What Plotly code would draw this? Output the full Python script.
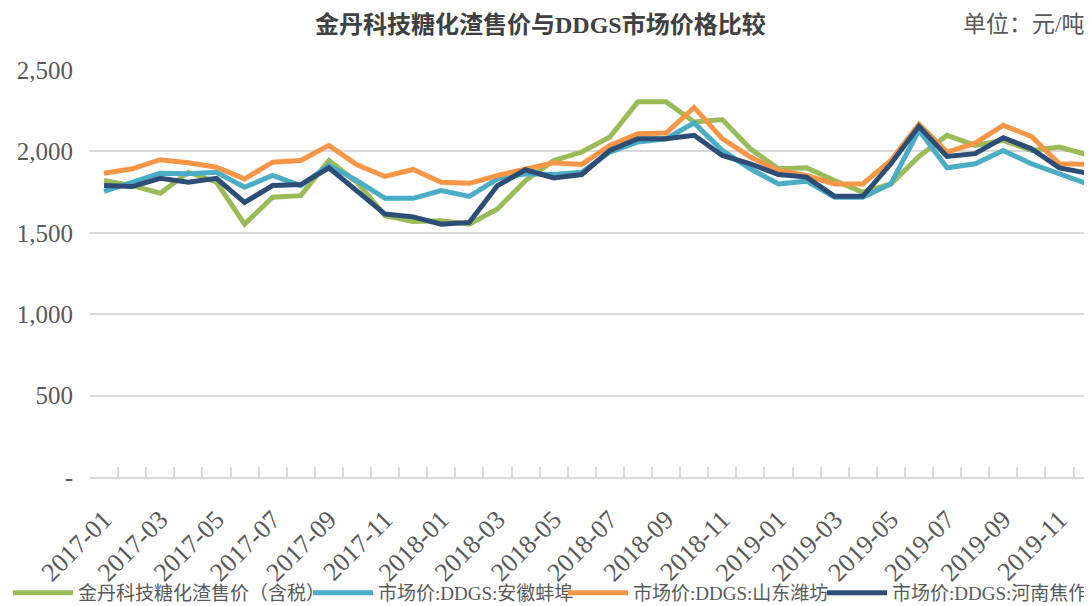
import plotly.graph_objects as go

months = [
    "2017-01", "2017-02", "2017-03", "2017-04", "2017-05", "2017-06",
    "2017-07", "2017-08", "2017-09", "2017-10", "2017-11", "2017-12",
    "2018-01", "2018-02", "2018-03", "2018-04", "2018-05", "2018-06",
    "2018-07", "2018-08", "2018-09", "2018-10", "2018-11", "2018-12",
    "2019-01", "2019-02", "2019-03", "2019-04", "2019-05", "2019-06",
    "2019-07", "2019-08", "2019-09", "2019-10", "2019-11", "2019-12",
]
x_ticklabels = [
    "2017-01", "", "2017-03", "", "2017-05", "", "2017-07", "", "2017-09", "", "2017-11", "",
    "2018-01", "", "2018-03", "", "2018-05", "", "2018-07", "", "2018-09", "", "2018-11", "",
    "2019-01", "", "2019-03", "", "2019-05", "", "2019-07", "", "2019-09", "", "2019-11", "",
]

jindan = [1821, 1790, 1743, 1872, 1811, 1553, 1718, 1728, 1944, 1811, 1605, 1570,
          1574, 1553, 1646, 1821, 1944, 1996, 2088, 2305, 2305, 2181, 2196, 2016,
          1893, 1899, 1821, 1749, 1800, 1969, 2099, 2037, 2068, 2006, 2027, 1979]
anhui = [1755, 1811, 1866, 1862, 1872, 1780, 1852, 1790, 1914, 1821, 1712, 1712,
         1759, 1724, 1831, 1862, 1858, 1872, 1996, 2058, 2078, 2175, 2006, 1893,
         1800, 1817, 1718, 1718, 1800, 2130, 1899, 1924, 2006, 1924, 1858, 1800]
shandong = [1866, 1893, 1949, 1930, 1903, 1831, 1934, 1944, 2037, 1918, 1846, 1889,
            1811, 1804, 1852, 1893, 1930, 1920, 2037, 2109, 2113, 2270, 2078, 1965,
            1883, 1852, 1800, 1800, 1944, 2167, 1996, 2051, 2160, 2092, 1924, 1920]
henan = [1790, 1784, 1835, 1811, 1835, 1687, 1790, 1796, 1899, 1755, 1615, 1598,
         1553, 1564, 1790, 1887, 1837, 1858, 2006, 2078, 2078, 2099, 1975, 1924,
         1858, 1842, 1724, 1724, 1924, 2154, 1969, 1986, 2084, 2016, 1899, 1866]

series_names = ["金丹科技糖化渣售价（含税）", "市场价:DDGS:安徽蚌埠",
                "市场价:DDGS:山东潍坊", "市场价:DDGS:河南焦作"]
series_values = [jindan, anhui, shandong, henan]
series_colors = ["#9BBB59", "#4BACC6", "#F79646", "#2C4D75"]

y_tickvals = [0, 500, 1000, 1500, 2000, 2500]
y_ticktext = ["-", "500", "1,000", "1,500", "2,000", "2,500"]

title_text = "金丹科技糖化渣售价与DDGS市场价格比较"
unit_text = "单位：元/吨"

serif = "Liberation Serif, Noto Sans CJK SC, serif"

# figure geometry (page is offset by the 8px body margin)
W, H = 1092, 606
ML, MT, MR, MB = 82, 62, 8, 137
plot_w = W - ML - MR
plot_h = H - MT - MB
cat_w = 28.1

legend_ids = ["legend", "legend2", "legend3", "legend4"]
legend_x_px = [0, 300, 555, 814]

fig = go.Figure()
for name, vals, col, lid in zip(series_names, series_values, series_colors, legend_ids):
    fig.add_trace(go.Scatter(
        x=months, y=vals, name=name, mode="lines",
        line=dict(color=col, width=5), legend=lid,
    ))

legend_common = dict(
    orientation="h", xref="container", yref="container",
    xanchor="left", yanchor="middle", y=1 - 585 / H,
    font=dict(family=serif, size=19, color="#595959"),
    itemwidth=60, bgcolor="rgba(0,0,0,0)",
)
legend_layout = {}
for lid, xpx in zip(legend_ids, legend_x_px):
    legend_layout[lid] = dict(legend_common, x=xpx / W)

fig.update_layout(
    width=W, height=H,
    margin=dict(l=ML, r=MR, t=MT, b=MB, autoexpand=False),
    paper_bgcolor="white", plot_bgcolor="white",
    showlegend=True,
    annotations=[
        dict(text=f"<b>{title_text}</b>", x=(532 - ML) / plot_w, y=1 + (MT - 16) / plot_h,
             xref="paper", yref="paper", xanchor="center", yanchor="middle",
             showarrow=False, font=dict(family=serif, size=24, color="#404040")),
        dict(text=unit_text, x=(1078 - ML) / plot_w, y=1 + (MT - 16) / plot_h,
             xref="paper", yref="paper", xanchor="right", yanchor="middle",
             showarrow=False, font=dict(family=serif, size=23, color="#595959")),
    ],
    **legend_layout,
)

fig.update_xaxes(
    type="category",
    range=[-0.5, -0.5 + plot_w / cat_w],
    tickmode="array", tickvals=months, ticktext=x_ticklabels,
    tickson="boundaries",
    ticks="inside", ticklen=10, tickwidth=1.5, tickcolor="#D9D9D9",
    tickangle=-45, ticklabelstandoff=15,
    tickfont=dict(family=serif, size=26, color="#595959"),
    showline=True, linecolor="#D9D9D9", linewidth=2,
    showgrid=False, zeroline=False, automargin=False,
)
fig.update_yaxes(
    range=[0, 2500],
    tickmode="array", tickvals=y_tickvals, ticktext=y_ticktext,
    tickfont=dict(family=serif, size=25, color="#595959"),
    ticks="", ticklabelstandoff=16,
    showgrid=True, gridcolor="#D9D9D9", gridwidth=1.5,
    zeroline=False, showline=False, automargin=False,
)

fig.write_html("out.html")
